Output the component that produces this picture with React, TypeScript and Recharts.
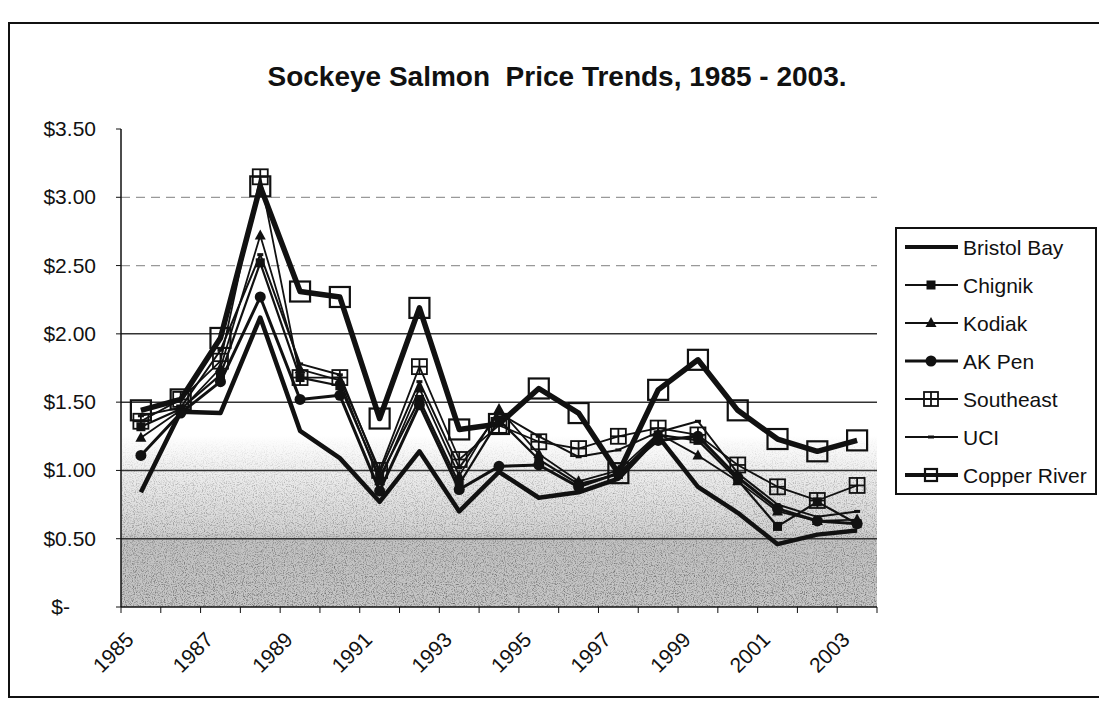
import React from "react";
import {
  LineChart,
  Line,
  XAxis,
  YAxis,
  ReferenceArea,
  ReferenceLine,
  Legend,
} from "recharts";

// price per pound by fishery, 1985 - 2003
const years = [
  "1985", "1986", "1987", "1988", "1989", "1990", "1991", "1992", "1993", "1994",
  "1995", "1996", "1997", "1998", "1999", "2000", "2001", "2002", "2003",
];
const bristolBay = [0.84, 1.43, 1.42, 2.12, 1.29, 1.09, 0.77, 1.14, 0.70, 0.99, 0.80, 0.84, 0.94, 1.25, 0.88, 0.69, 0.46, 0.53, 0.56];
const chignik = [1.32, 1.45, 1.70, 2.52, 1.68, 1.62, 0.95, 1.52, 0.90, 1.37, 1.08, 0.90, 0.97, 1.26, 1.22, 0.93, 0.59, 0.77, 0.61];
const kodiak = [1.24, 1.44, 1.75, 2.72, 1.74, 1.66, 0.92, 1.60, 0.96, 1.45, 1.12, 0.92, 1.00, 1.27, 1.11, 0.92, 0.70, 0.63, 0.64];
const akPen = [1.11, 1.42, 1.65, 2.27, 1.52, 1.55, 0.85, 1.48, 0.86, 1.03, 1.04, 0.88, 0.98, 1.22, 1.25, 0.95, 0.72, 0.63, 0.61];
const southeast = [1.36, 1.52, 1.80, 3.15, 1.68, 1.68, 1.00, 1.76, 1.08, 1.33, 1.21, 1.16, 1.25, 1.31, 1.26, 1.04, 0.88, 0.78, 0.89];
const uci = [1.40, 1.46, 1.88, 2.58, 1.78, 1.70, 0.98, 1.65, 1.02, 1.42, 1.25, 1.10, 1.15, 1.28, 1.36, 0.98, 0.75, 0.66, 0.70];
const copperRiver = [1.44, 1.52, 1.97, 3.08, 2.31, 2.27, 1.38, 2.19, 1.30, 1.34, 1.60, 1.42, 0.98, 1.59, 1.81, 1.44, 1.23, 1.14, 1.22];
const yTicks = [0, 0.5, 1, 1.5, 2, 2.5, 3, 3.5];

type MarkerKind = "none" | "square" | "triangle" | "circle" | "squarePlus" | "dash" | "bigSquare";

type SeriesDef = {
  key: string;
  name: string;
  values: number[];
  width: number;
  marker: MarkerKind;
};

const series: SeriesDef[] = [
  { key: "bristolBay", name: "Bristol Bay", values: bristolBay, width: 4.5, marker: "none" },
  { key: "chignik", name: "Chignik", values: chignik, width: 2.2, marker: "square" },
  { key: "kodiak", name: "Kodiak", values: kodiak, width: 1.8, marker: "triangle" },
  { key: "akPen", name: "AK Pen", values: akPen, width: 3, marker: "circle" },
  { key: "southeast", name: "Southeast", values: southeast, width: 1.8, marker: "squarePlus" },
  { key: "uci", name: "UCI", values: uci, width: 2, marker: "dash" },
  { key: "copperRiver", name: "Copper River", values: copperRiver, width: 5.5, marker: "bigSquare" },
];

const data = years.map((year, i) => {
  const row: Record<string, string | number> = { year };
  series.forEach((s) => (row[s.key] = s.values[i]));
  return row;
});

const W = 1099;
const H = 702;
const PLOT_LEFT = 121;
const PLOT_RIGHT = 877;
const PLOT_TOP = 129;
const PLOT_BOTTOM = 607;
const STEP = (PLOT_RIGHT - PLOT_LEFT) / years.length;
const FONT = "'Liberation Sans', Arial, sans-serif";

function Marker({ kind, cx, cy, legend }: { kind: MarkerKind; cx: number; cy: number; legend?: boolean }) {
  switch (kind) {
    case "square":
      return <rect x={cx - 4.5} y={cy - 4.5} width={9} height={9} fill="#111" />;
    case "triangle":
      return <path d={`M${cx},${cy - 6} L${cx + 5.5},${cy + 4} L${cx - 5.5},${cy + 4} Z`} fill="#111" />;
    case "circle":
      return <circle cx={cx} cy={cy} r={5.5} fill="#111" />;
    case "squarePlus": {
      const h = legend ? 7 : 7.5;
      return (
        <g fill="none" stroke="#111" strokeWidth={1.8}>
          <rect x={cx - h} y={cy - h} width={h * 2} height={h * 2} />
          <line x1={cx - h} y1={cy} x2={cx + h} y2={cy} />
          <line x1={cx} y1={cy - h} x2={cx} y2={cy + h} />
        </g>
      );
    }
    case "dash":
      return <line x1={cx - 3} y1={cy} x2={cx + 3} y2={cy} stroke="#111" strokeWidth={3} />;
    case "bigSquare": {
      const h = legend ? 6 : 10;
      return <rect x={cx - h} y={cy - h} width={h * 2} height={h * 2} fill="none" stroke="#111" strokeWidth={2.2} />;
    }
    default:
      return null;
  }
}

function YTick({ y, payload }: any) {
  const v = payload.value as number;
  const label = v === 0 ? "$-" : `$${v.toFixed(2)}`;
  return (
    <text x={v === 0 ? 70 : 96} y={y} dy={7} textAnchor="end" fontSize={21} fill="#111" fontFamily={FONT}>
      {label}
    </text>
  );
}

function XTick({ x, payload, index }: any) {
  const ay = PLOT_BOTTOM;
  const left = x - STEP / 2;
  return (
    <g>
      <line x1={left} y1={ay} x2={left} y2={ay + 6} stroke="#111" strokeWidth={1} />
      {index === years.length - 1 && (
        <line x1={x + STEP / 2} y1={ay} x2={x + STEP / 2} y2={ay + 6} stroke="#111" strokeWidth={1} />
      )}
      {index % 2 === 0 && (
        <text
          x={x - 6}
          y={ay + 34}
          transform={`rotate(-45, ${x - 6}, ${ay + 34})`}
          textAnchor="end"
          fontSize={21}
          fill="#111"
          fontFamily={FONT}
        >
          {payload.value}
        </text>
      )}
    </g>
  );
}

// the area from the scale spans first..last category centre; widen it to the category edges
function PlotFill({ x, y, width, height, fill, filter }: any) {
  return <rect x={x - STEP / 2} y={y} width={width + STEP} height={height} fill={fill} filter={filter} />;
}

function LegendBox() {
  return (
    <svg width={203} height={269} style={{ display: "block" }}>
      <rect x={1} y={1} width={200} height={266} fill="#fff" stroke="#111" strokeWidth={2} />
      {series.map((s, i) => {
        const cy = 20 + i * 38;
        return (
          <g key={s.key}>
            <line x1={10} y1={cy} x2={63} y2={cy} stroke="#111" strokeWidth={Math.min(s.width, 4)} />
            <Marker kind={s.marker} cx={36} cy={cy} legend />
            <text x={68} y={cy} dy={7.5} fontSize={21} fill="#111" fontFamily={FONT}>
              {s.name}
            </text>
          </g>
        );
      })}
    </svg>
  );
}

export default function App() {
  return (
    <div style={{ position: "absolute", left: 0, top: 0, width: W, height: H, background: "#fff", overflow: "hidden" }}>
      <svg width={0} height={0} style={{ position: "absolute" }}>
        <defs>
          <linearGradient id="plotBg" x1="0" y1="0" x2="0" y2="1">
            <stop offset="0" stopColor="#ffffff" />
            <stop offset="0.64" stopColor="#ffffff" />
            <stop offset="0.72" stopColor="#eeeeee" />
            <stop offset="0.84" stopColor="#d4d4d4" />
            <stop offset="0.86" stopColor="#c2c2c2" />
            <stop offset="1" stopColor="#c6c6c6" />
          </linearGradient>
          <linearGradient id="grainFade" x1="0" y1="0" x2="0" y2="1">
            <stop offset="0" stopColor="#000" stopOpacity="0" />
            <stop offset="0.3" stopColor="#000" stopOpacity="0.3" />
            <stop offset="1" stopColor="#000" stopOpacity="0.55" />
          </linearGradient>
          <filter id="grain" x="0" y="0" width="100%" height="100%">
            <feTurbulence type="fractalNoise" baseFrequency="0.9" numOctaves="2" seed="4" result="noise" />
            <feColorMatrix
              in="noise"
              type="matrix"
              values="0 0 0 0 0  0 0 0 0 0  0 0 0 0 0  2.2 0 0 0 -1.0"
              result="dots"
            />
            <feComposite in="dots" in2="SourceGraphic" operator="in" />
          </filter>
        </defs>
      </svg>

      {/* page frame */}
      <div
        style={{
          position: "absolute",
          left: 8,
          top: 22,
          width: 1110,
          height: 676,
          borderLeft: "2px solid #111",
          borderTop: "2px solid #111",
          borderBottom: "2px solid #111",
          boxSizing: "border-box",
        }}
      />

      <div
        style={{
          position: "absolute",
          left: 157,
          top: 62,
          width: 800,
          textAlign: "center",
          fontFamily: FONT,
          fontWeight: "bold",
          fontSize: 28,
          lineHeight: "30px",
          whiteSpace: "pre",
          color: "#111",
        }}
      >
        Sockeye Salmon  Price Trends, 1985 - 2003.
      </div>

      <div style={{ position: "absolute", left: 0, top: 0 }}>
        <LineChart
          width={W}
          height={H}
          data={data}
          margin={{ top: PLOT_TOP, right: W - PLOT_RIGHT, bottom: 0, left: 0 }}
        >
          <XAxis
            dataKey="year"
            height={H - PLOT_BOTTOM}
            interval={0}
            padding={{ left: STEP / 2, right: STEP / 2 }}
            axisLine={{ stroke: "#111", strokeWidth: 1.5 }}
            tickLine={false}
            tick={<XTick />}
          />
          <YAxis
            type="number"
            domain={[0, 3.5]}
            ticks={yTicks}
            width={PLOT_LEFT}
            axisLine={{ stroke: "#111", strokeWidth: 1.5 }}
            tickLine={{ stroke: "#111" }}
            tickSize={5}
            tick={<YTick />}
          />
          <ReferenceArea y1={0} y2={3.5} shape={(p: any) => <PlotFill {...p} fill="url(#plotBg)" />} />
          <ReferenceArea
            y1={0}
            y2={1.25}
            shape={(p: any) => <PlotFill {...p} fill="url(#grainFade)" filter="url(#grain)" />}
          />
          {[0.5, 1, 1.5, 2].map((v) => (
            <ReferenceLine key={v} y={v} stroke="#333" strokeWidth={1.5} />
          ))}
          {[2.5, 3].map((v) => (
            <ReferenceLine key={v} y={v} stroke="#999" strokeWidth={1.2} strokeDasharray="9 6" />
          ))}
          <Legend
            layout="horizontal"
            verticalAlign="middle"
            align="center"
            content={() => <LegendBox />}
            wrapperStyle={{ position: "absolute", left: 895, top: 227, width: 203, height: 269 }}
          />
          {series.map((s) => (
            <Line
              key={s.key}
              type="linear"
              dataKey={s.key}
              name={s.name}
              stroke="#111"
              strokeWidth={s.width}
              strokeLinejoin="round"
              dot={
                s.marker === "none"
                  ? false
                  : (p: any) => <Marker key={`${s.key}-${p.index}`} kind={s.marker} cx={p.cx} cy={p.cy} />
              }
              activeDot={false}
              isAnimationActive={false}
            />
          ))}
        </LineChart>
      </div>
    </div>
  );
}
